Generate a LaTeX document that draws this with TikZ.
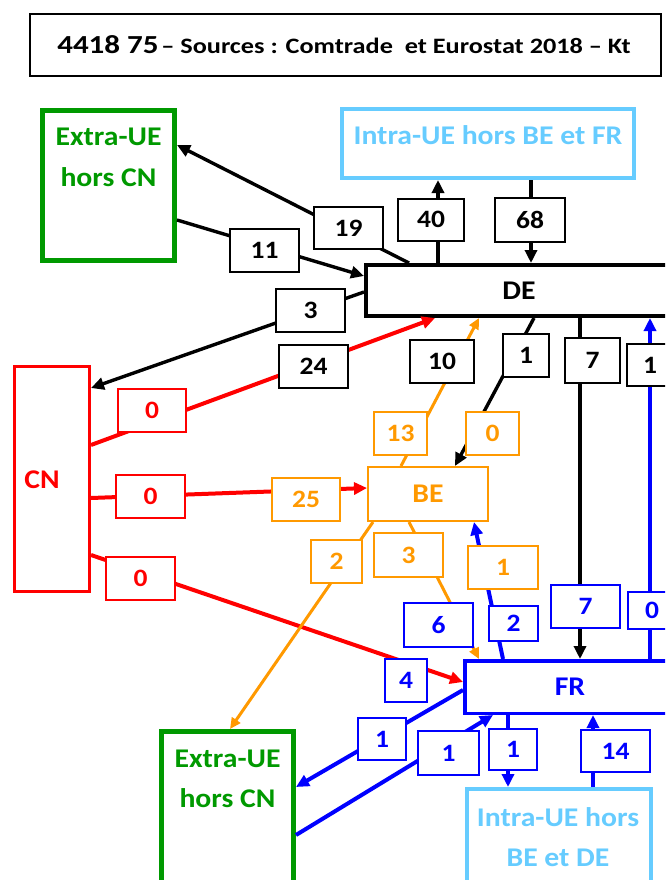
\documentclass[tikz,border=0pt]{standalone}
\usepackage{fontspec}
\setmainfont{Carlito}[FakeStretch=1.1]
\usetikzlibrary{arrows.meta}
\definecolor{cgreen}{RGB}{0,153,0}
\definecolor{csky}{RGB}{102,204,255}
\definecolor{corange}{RGB}{255,153,0}
\definecolor{cred}{RGB}{255,0,0}
\definecolor{cblue}{RGB}{0,0,255}
\begin{document}
\begin{tikzpicture}[x=1pt,y=-1pt,
  bigbox/.style={draw, fill=white, inner sep=0pt, anchor=center},
  lab/.style={draw, fill=white, line width=2pt, inner sep=0pt, anchor=center,
    font=\fontsize{25}{28}\selectfont\bfseries},
  lblk/.style={lab, draw=black, text=black},
  lred/.style={lab, draw=cred, text=cred},
  lora/.style={lab, draw=corange, text=corange},
  lblu/.style={lab, draw=cblue, text=cblue},
  txt/.style={inner sep=0pt, align=center, anchor=center},
  cblk/.style={draw=black, line width=3.4pt, -{Triangle[length=13pt,width=12pt]}},
  cred/.style={draw=cred, line width=4pt, -{Triangle[length=13pt,width=12pt]}},
  cora/.style={draw=corange, line width=3pt, -{Triangle[length=11pt,width=10pt]}},
  cblu/.style={draw=cblue, line width=4pt, -{Triangle[length=13pt,width=12pt]}},
]
\useasboundingbox (0,0) rectangle (665,880);
\clip (0,0) rectangle (665,880);

% title
\node[bigbox, draw=black, line width=2pt, minimum width=631pt, minimum height=62pt] (title) at (345.5,45) {};
\node[txt] (titletext) at (344,45) {\scalebox{1.085}[1]{\bfseries{\fontsize{26}{30}\selectfont 4418 75} {\fontsize{22}{26}\selectfont -- Sources : Comtrade\ \ et Eurostat 2018 -- Kt}}};

% main boxes
\node[bigbox, draw=cgreen, line width=5pt, minimum width=132pt, minimum height=150pt] (ExtraTop) at (108.5,185.5) {};
\node[txt, text=cgreen, font=\fontsize{27}{41}\selectfont\bfseries] (ExtraTopT) at (108.5,157.5) {Extra-UE\\hors CN};

\node[bigbox, draw=csky, line width=4pt, minimum width=292pt, minimum height=69pt] (IntraTop) at (488,143.5) {};
\node[txt, text=csky, font=\fontsize{27}{41}\selectfont\bfseries] (IntraTopT) at (488,135) {Intra-UE hors BE et FR};

\node[bigbox, draw=black, line width=4pt, minimum width=306pt, minimum height=51pt,
  font=\fontsize{27}{30}\selectfont\bfseries] (DE) at (519,290.5) {DE};

\node[bigbox, draw=cred, line width=3pt, minimum width=75pt, minimum height=225pt] (CN) at (52,479) {};
\node[txt, text=cred, font=\fontsize{27}{30}\selectfont\bfseries] (CNT) at (42,480) {CN};

\node[bigbox, draw=corange, line width=2pt, minimum width=120pt, minimum height=54pt,
  text=corange, font=\fontsize{27}{30}\selectfont\bfseries] (BE) at (428,494) {BE};

\node[bigbox, draw=cblue, line width=3.5pt, minimum width=210.5pt, minimum height=52.5pt,
  text=cblue, font=\fontsize{27}{30}\selectfont\bfseries] (FR) at (570,687) {FR};

\node[bigbox, draw=cgreen, line width=5pt, minimum width=132pt, minimum height=266pt] (ExtraBot) at (227.5,864.5) {};
\node[txt, text=cgreen, font=\fontsize{27}{40}\selectfont\bfseries] (ExtraBotT) at (227.5,778.5) {Extra-UE\\hors CN};

\node[bigbox, draw=csky, line width=4pt, minimum width=184pt, minimum height=209pt] (IntraBot) at (559,893.5) {};
\node[txt, text=csky, font=\fontsize{27}{40}\selectfont\bfseries] (IntraBotT) at (558,837) {Intra-UE hors\\BE et DE};

% connectors: black
\draw[cblk] (409,0 |- DE.north) -- (ExtraTop.east |- 0,145);
\draw[cblk] (ExtraTop.east |- 0,220) -- (DE.west |- 0,276);
\draw[cblk] (438,0 |- DE.north) -- (438,0 |- IntraTop.south);
\draw[cblk] (531,0 |- IntraTop.south) -- (531,0 |- DE.north);
\draw[cblk] (DE.west |- 0,292) -- (CN.east |- 0,388);
\draw[cblk] (534,0 |- DE.south) -- (455,0 |- BE.north);
\draw[cblk] (580,0 |- DE.south) -- (580,0 |- FR.north);
% red
\draw[cred] (CN.east |- 0,445) -- (435,0 |- DE.south);
\draw[cred] (CN.east |- 0,498) -- (BE.west |- 0,488);
\draw[cred] (CN.east |- 0,555) -- (FR.west |- 0,682);
% orange
\draw[cora] (401,0 |- BE.north) -- (479,0 |- DE.south);
\draw[cora] (373,0 |- BE.south) -- (230,0 |- ExtraBot.north);
\draw[cora] (409,0 |- BE.south) -- (479,0 |- FR.north);
% blue
\draw[cblu] (503,0 |- FR.north) -- (474,0 |- BE.south);
\draw[cblu] (650,0 |- FR.north) -- (650,0 |- DE.south);
\draw[cblu] (FR.west |- 0,690) -- (ExtraBot.east |- 0,787);
\draw[cblu] (ExtraBot.east |- 0,835) -- (493,0 |- FR.south);
\draw[cblu] (508,0 |- FR.south) -- (508,0 |- IntraBot.north);
\draw[cblu] (593,0 |- IntraBot.north) -- (593,0 |- FR.south);

% labels
\node[lblk, minimum width=69pt, minimum height=42pt] (L19) at (348.5,228) {19};
\node[lblk, minimum width=69pt, minimum height=43pt] (L11) at (264.5,250.5) {11};
\node[lblk, minimum width=66pt, minimum height=42pt] (L40) at (431,219.5) {40};
\node[lblk, minimum width=70pt, minimum height=44pt] (L68) at (530,220) {68};
\node[lblk, minimum width=69pt, minimum height=43pt] (L3) at (310.5,310.5) {3};
\node[lblk, minimum width=69pt, minimum height=43pt] (L24) at (313.5,366.5) {24};
\node[lblk, minimum width=64pt, minimum height=43pt] (L10) at (442,361.5) {10};
\node[lblk, minimum width=46pt, minimum height=43pt] (L1a) at (526,355.5) {1};
\node[lblk, minimum width=55pt, minimum height=45pt] (L7a) at (592.7,360) {7};
\node[lblk, minimum width=46pt, minimum height=42pt] (L1b) at (650,365.3) {1};

\node[lred, minimum width=68pt, minimum height=43pt] (L0r1) at (152,410.5) {0};
\node[lred, minimum width=69pt, minimum height=43pt] (L0r2) at (150.5,496.5) {0};
\node[lred, minimum width=69pt, minimum height=43pt] (L0r3) at (140.5,578.5) {0};

\node[lora, minimum width=53pt, minimum height=43pt] (L13) at (400.5,433.5) {13};
\node[lora, minimum width=53pt, minimum height=43pt] (L0o) at (492.5,433.5) {0};
\node[lora, minimum width=68pt, minimum height=43pt] (L25) at (306,499.5) {25};
\node[lora, minimum width=51pt, minimum height=43pt] (L2o) at (336.5,561.5) {2};
\node[lora, minimum width=69pt, minimum height=44pt] (L3o) at (408.5,555) {3};
\node[lora, minimum width=70pt, minimum height=43pt] (L1o) at (503,567.5) {1};

\node[lblu, minimum width=69pt, minimum height=44pt] (L6) at (438.5,625) {6};
\node[lblu, minimum width=49pt, minimum height=35pt] (L2b) at (513.7,623.3) {2};
\node[lblu, minimum width=69pt, minimum height=43pt] (L7b) at (585.5,606.8) {7};
\node[lblu, minimum width=49pt, minimum height=37pt] (L0b) at (652,610) {0};
\node[lblu, minimum width=42pt, minimum height=43pt] (L4) at (406,680.5) {4};
\node[lblu, minimum width=48pt, minimum height=42pt] (L1ba) at (382,739) {1};
\node[lblu, minimum width=61pt, minimum height=44pt] (L1bb) at (448.5,753) {1};
\node[lblu, minimum width=48pt, minimum height=41pt] (L1bc) at (513,749.5) {1};
\node[lblu, minimum width=69pt, minimum height=42pt] (L14) at (615.5,751) {14};
\end{tikzpicture}
\end{document}
